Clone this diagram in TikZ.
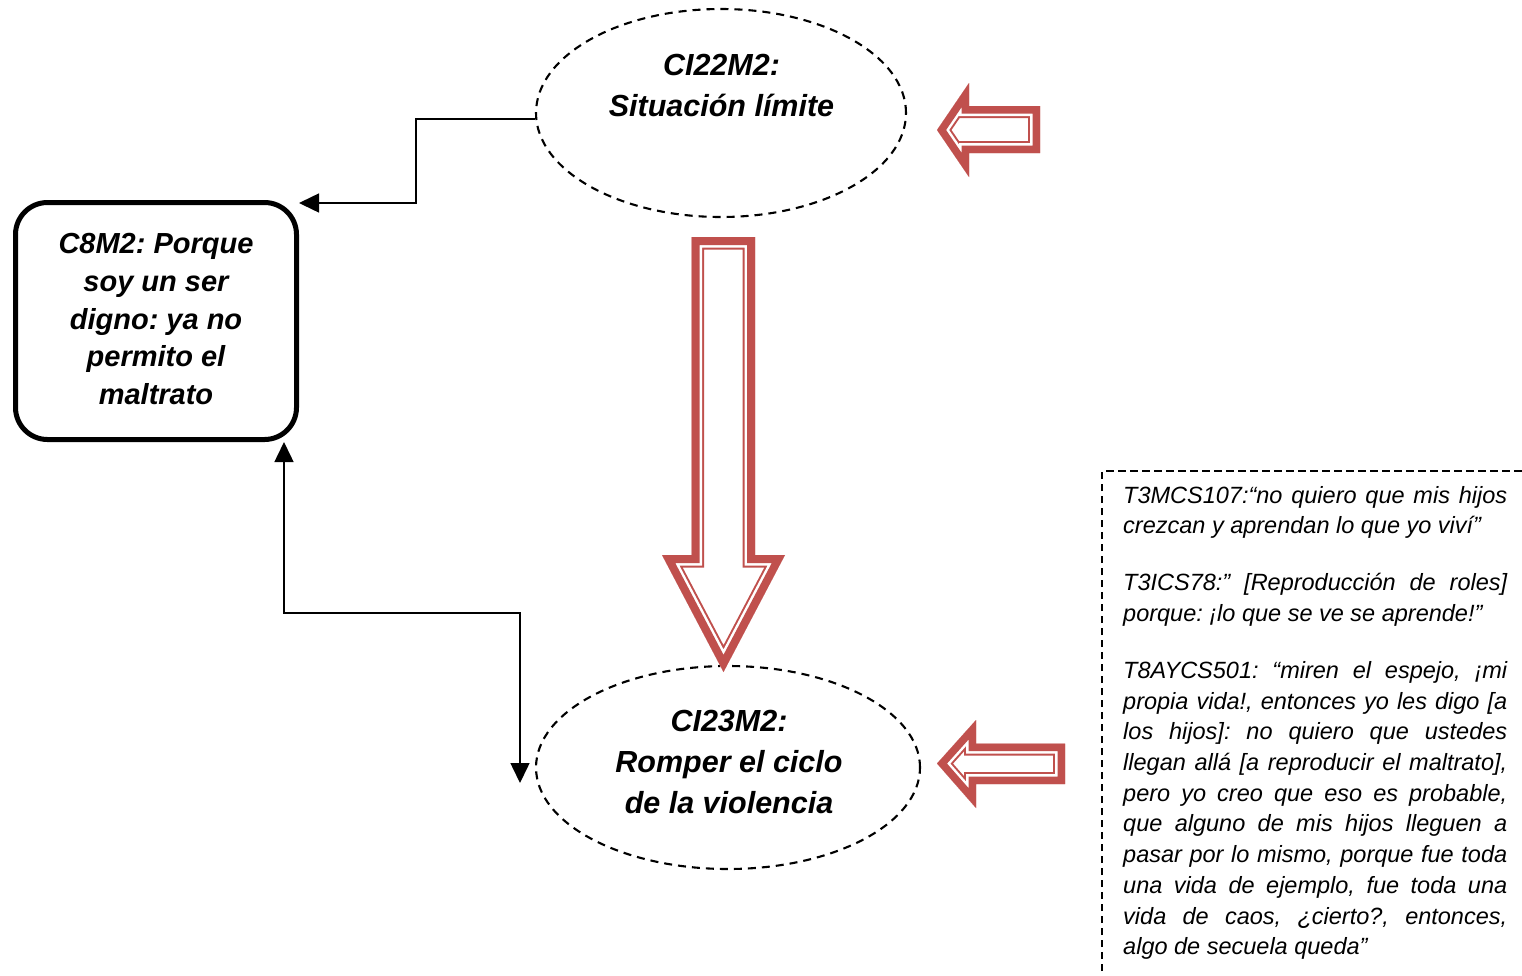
\documentclass[tikz,border=0pt]{standalone}
\usepackage{fontspec}
\setmainfont{Liberation Sans}
\usetikzlibrary{arrows.meta,shapes.geometric,calc}
\definecolor{arrowred}{HTML}{C0504D}
\frenchspacing

% Hollow block arrow: outer red band (#1 thick), white gap, thin red inner rule
\newcommand\hollowarrow[2]{%
  \begin{scope}
    \clip #2;
    \fill[white] #2;
    \pgfmathsetmacro\bandA{2*(#1+4.5)}%
    \pgfmathsetmacro\bandB{2*(#1+2.5)}%
    \pgfmathsetmacro\bandC{2*(#1)}%
    \draw[arrowred, line width=\bandA pt, line join=miter] #2;
    \draw[white, line width=\bandB pt, line join=miter] #2;
    \draw[arrowred, line width=\bandC pt, line join=miter] #2;
  \end{scope}}

\tikzset{
  concept/.style={ellipse, draw, dash pattern=on 8pt off 6pt, line width=2.1pt, inner sep=0pt},
  conceptlabel/.style={align=center, inner sep=0pt,
    font=\fontsize{30.5}{41}\selectfont\bfseries\itshape},
  keybox/.style={draw, line width=5pt, rounded corners=32pt, align=center, inner sep=0pt,
    font=\fontsize{29}{37.7}\selectfont\bfseries\itshape},
  conn/.style={line width=1.5pt, line join=miter},
  conntip/.tip={Triangle[length=20pt,width=19pt]},
  quotetext/.style={text width=384pt, align=justify, inner sep=0pt,
    font=\fontsize{23.5}{30.7}\selectfont\itshape},
  quoteframe/.style={line width=2pt, dash pattern=on 7.5pt off 4.5pt}
}

\begin{document}
\begin{tikzpicture}[x=1pt, y=-1pt]
  \useasboundingbox (0,0) rectangle (1522,975);
  \clip (0,0) rectangle (1522,975);

  % concept nodes
  \node[concept, minimum width=370pt, minimum height=208pt] (ci22) at (721,113) {};
  \node[conceptlabel] (ci22t) at (721.5,85.5) {CI22M2:\\Situación límite};

  \node[concept, minimum width=384pt, minimum height=203pt] (ci23) at (728,767.5) {};
  \node[conceptlabel] (ci23t) at (729,761.5) {CI23M2:\\Romper el ciclo\\de la violencia};

  \node[keybox, minimum width=281pt, minimum height=237pt] (c8) at (156,321)
    {C8M2: Porque\\soy un ser\\digno: ya no\\permito el\\maltrato\rule[-4pt]{0pt}{4pt}};

  % elbow connectors
  \coordinate (k1) at (416,203);
  \coordinate (k2) at (284,613);
  \coordinate (k3) at (520,783);
  \draw[conn, -conntip] ($(ci22.west)+(0,6)$) -| (k1) -- ($(c8.north east)+(0,3)$);
  \draw[conn, conntip-conntip] (c8.south -| k2) -- (k2) -| (k3);

  % block arrows
  \hollowarrow{8}{(691.5,237) -- (755,237) -- (755,555) -- (785,555) -- (723.5,672) -- (662,555) -- (691.5,555) -- cycle}
  \hollowarrow{7.5}{(937,130) -- (969,83) -- (969,106) -- (1040,106) -- (1040,153) -- (969,153) -- (969,177) -- cycle}
  \hollowarrow{7.5}{(937,763.5) -- (976,720) -- (976,743.5) -- (1065,743.5) -- (1065,784) -- (976,784) -- (976,808) -- cycle}

  % quotation box
  \coordinate (qbl) at (1102,995);
  \coordinate (qtl) at (1102,471);
  \coordinate (qtr) at (1545,471);
  \draw[quoteframe] (qbl) -- (qtl) -- (qtr);
  \node[quotetext, anchor=north west] (quote) at (1123,485.8) {%
    \tolerance=10000 \hbadness=10000 \hyphenpenalty=10000
    \setlength{\parskip}{26.3pt}%
    T3MCS107:“no quiero que mis hijos\linebreak
    crezcan y aprendan lo que yo viví”\par
    T3ICS78:” [Reproducción de roles]\linebreak
    porque: ¡lo que se ve se aprende!”\par
    T8AYCS501: “miren el espejo, ¡mi\linebreak
    propia vida!, entonces yo les digo [a\linebreak
    los hijos]: no quiero que ustedes\linebreak
    llegan allá [a reproducir el maltrato],\linebreak
    pero yo creo que eso es probable,\linebreak
    que alguno de mis hijos lleguen a\linebreak
    pasar por lo mismo, porque fue toda\linebreak
    una vida de ejemplo, fue toda una\linebreak
    vida de caos, ¿cierto?, entonces,\linebreak
    algo de secuela queda”};
\end{tikzpicture}
\end{document}
